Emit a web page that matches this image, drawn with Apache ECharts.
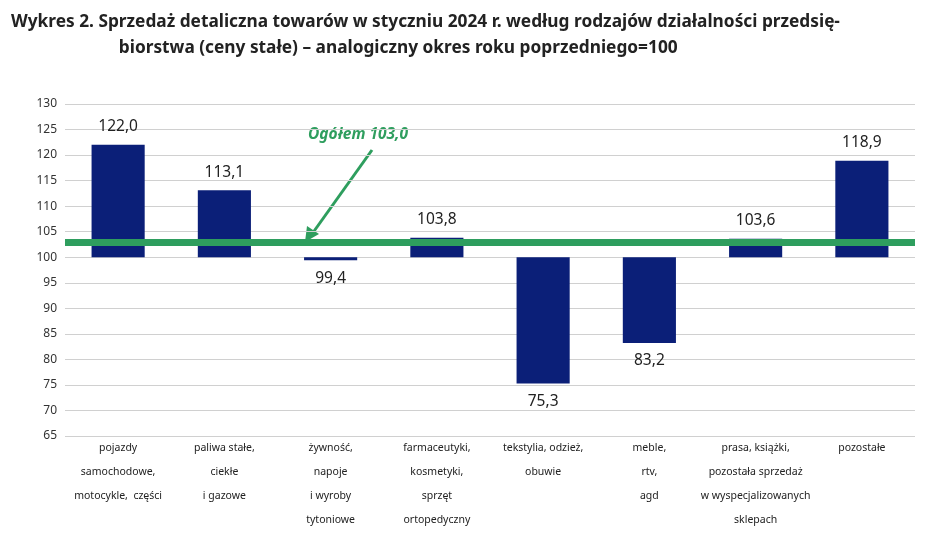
<!DOCTYPE html>
<html>
<head>
<meta charset="utf-8">
<script src="https://cdn.jsdelivr.net/npm/echarts@6/dist/echarts.min.js"></script>
<style>body{margin:0;background:#fff}#main{width:948px;height:549px}</style>
</head>
<body>
<div id="main"></div>
<script>
const categories = [
  'pojazdy\nsamochodowe,\nmotocykle,  części',
  'paliwa stałe,\nciekłe\ni gazowe',
  'żywność,\nnapoje\ni wyroby\ntytoniowe',
  'farmaceutyki,\nkosmetyki,\nsprzęt\nortopedyczny',
  'tekstylia, odzież,\nobuwie',
  'meble,\nrtv,\nagd',
  'prasa, książki,\npozostała sprzedaż\nw wyspecjalizowanych\nsklepach',
  'pozostałe'
];
const values = [122.0, 113.1, 99.4, 103.8, 75.3, 83.2, 103.6, 118.9];
const total = 103.0;
const base = 100;

let myChart = echarts.init(document.getElementById('main'));
myChart.setOption({
  animation: false,
  title: {
    text: 'Wykres 2. Sprzedaż detaliczna towarów w styczniu 2024 r. według rodzajów działalności przedsię-\n                        biorstwa (ceny stałe) – analogiczny okres roku poprzedniego=100',
    left: 6, top: 4,
    textStyle: { fontFamily: 'Noto Sans', fontSize: 17.3, fontWeight: 'bold', color: '#222', lineHeight: 26 }
  },
  grid: { left: 65, right: 33, top: 104, bottom: 113 },
  xAxis: {
    type: 'category',
    data: categories,
    axisTick: { show: false },
    axisLine: { show: false },
    axisLabel: { interval: 0, fontFamily: 'Noto Sans', fontSize: 10.5, color: '#222', lineHeight: 24, verticalAlign: 'top', margin: 0 },
    position: 'bottom'
  },
  yAxis: {
    type: 'value', min: -35, max: 30, interval: 5,
    axisLabel: { formatter: v => v + base, fontFamily: 'Noto Sans', fontSize: 12, color: '#333' },
    splitLine: { lineStyle: { color: '#d0d0d0' } }
  },
  series: [{
    type: 'bar',
    barWidth: '50%',
    data: values.map(v => ({
      value: +(v - base).toFixed(1),
      label: { position: v >= base ? 'top' : 'bottom' }
    })),
    itemStyle: { color: '#0b1f78' },
    label: {
      show: true, distance: 10,
      formatter: p => values[p.dataIndex].toFixed(1).replace('.', ','),
      fontFamily: 'Noto Sans', fontSize: 15.5, color: '#222'
    },
    markLine: {
      silent: true, symbol: 'none', label: { show: false },
      lineStyle: { color: '#2e9e5e', width: 7, type: 'solid' },
      data: [{ yAxis: total - base }]
    }
  }],
  graphic: [
    { type: 'text', left: 308, top: 127,
      style: { text: 'Ogółem ' + total.toFixed(1).replace('.', ','), fontFamily: 'Noto Sans', fontSize: 15.5, fontWeight: 'bold', fontStyle: 'italic', fill: '#2e9e5e' } },
    { type: 'line', shape: { x1: 372, y1: 150, x2: 312, y2: 234 }, style: { stroke: '#2e9e5e', lineWidth: 3 } },
    { type: 'polygon', shape: { points: [[305, 242], [307, 226], [319, 234]] }, style: { fill: '#2e9e5e' } }
  ]
});
</script>
</body>
</html>
